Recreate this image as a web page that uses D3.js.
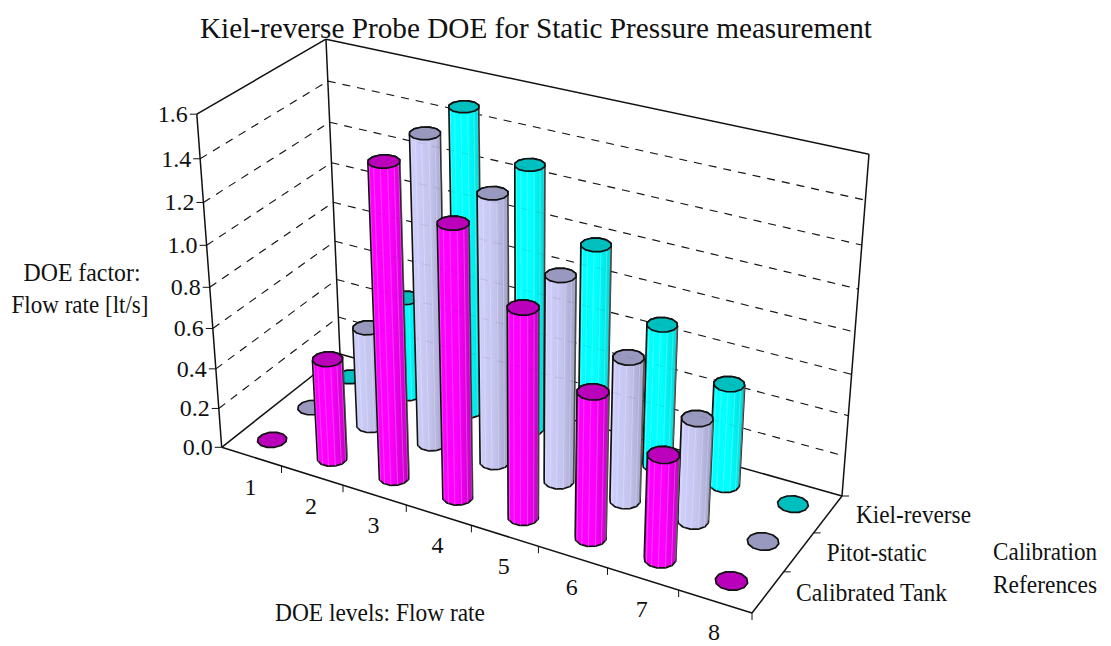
<!DOCTYPE html>
<html><head><meta charset="utf-8">
<script src="https://cdnjs.cloudflare.com/ajax/libs/d3/7.8.5/d3.min.js"></script>
<style>html,body{margin:0;background:#fff}svg{display:block}text{font-family:"Liberation Serif","Times New Roman",serif;fill:#111}</style>
</head><body><svg id="c" width="1111" height="646"></svg>
<script>
const categories=["1","2","3","4","5","6","7","8"];
const seriesNames=["Calibrated Tank","Pitot-static","Kiel-reverse"];
const seriesLabelWidths=[151,100,115];
const calibratedTank=[0,0.5,1.5,1.3,1.0,0.7,0.5,0];
const pitotStatic=[0,0.5,1.5,1.3,1.0,0.7,0.5,0];
const kielReverse=[0,0.5,1.5,1.3,1.0,0.7,0.5,0];
const valueTicks=[0,0.2,0.4,0.6,0.8,1.0,1.2,1.4,1.6];
const bodyColors=[["#ff00ff","#ff00ff","#c400c4"],["#d0d0ff","#c4c4ee","#a0a0c8"],["#00ffff","#00ffff","#00d8d8"]];
const topColors=["#bb00bb","#9999bf","#00bfbf"];
const title="Kiel-reverse Probe DOE for Static Pressure measurement";

// box corners on screen: floor A,B,C,D and top of the three visible walls
const A=[221.7,447.3],B=[752,613],C=[842,496],D=[340,354];
const topCorners=[[0,0,196,113],[0,1,326.7,40.5],[1,1,869,154]];

// floor homography (unit square -> quad)
const dx1=B[0]-C[0],dx2=D[0]-C[0],sx=A[0]-B[0]+C[0]-D[0],dy1=B[1]-C[1],dy2=D[1]-C[1],sy=A[1]-B[1]+C[1]-D[1];
const den=dx1*dy2-dx2*dy1,g=(sx*dy2-dx2*sy)/den,h=(dx1*sy-sx*dy1)/den;
const H=[B[0]-A[0]+g*B[0],D[0]-A[0]+h*D[0],A[0],B[1]-A[1]+g*B[1],D[1]-A[1]+h*D[1],A[1],g,h];
const fl=(u,v)=>[H[0]*u+H[1]*v+H[2],H[3]*u+H[4]*v+H[5],H[6]*u+H[7]*v+1];
// least squares for the vertical column of the projective matrix
function solveVertical(){
  const rows=[];
  topCorners.forEach(([u,v,x,y])=>{const [X,Y,W]=fl(u,v);rows.push([1,0,-x,x*W-X]);rows.push([0,1,-y,y*W-Y]);});
  const M=[0,1,2].map(i=>[0,1,2,3].map(j=>d3.sum(rows,r=>r[i]*r[j])));
  for(let i=0;i<3;i++){let p=i;for(let k=i+1;k<3;k++)if(Math.abs(M[k][i])>Math.abs(M[p][i]))p=k;[M[i],M[p]]=[M[p],M[i]];
    for(let k=0;k<3;k++)if(k!==i){const f=M[k][i]/M[i][i];for(let j=i;j<4;j++)M[k][j]-=f*M[i][j];}}
  return [M[0][3]/M[0][0],M[1][3]/M[1][1],M[2][3]/M[2][2]];
}
const [va,vb,vc]=solveVertical();
const uScale=d3.scaleLinear().domain([0,categories.length]).range([0,1]);
const vScale=d3.scaleLinear().domain([0,seriesNames.length]).range([0,1]);
const wScale=d3.scaleLinear().domain([0,1.6]).range([0,1]);
function project(cu,cv,val){const u=uScale(cu),v=vScale(cv),w=wScale(val),[X,Y,W]=fl(u,v);const d=W+vc*w;return [(X+va*w)/d,(Y+vb*w)/d];}
const line=d3.line();
const svg=d3.select("#c");
const defs=svg.append("defs");
bodyColors.forEach((c,i)=>{const lg=defs.append("linearGradient").attr("id","b"+i);
  [[0,c[0]],[0.55,c[1]],[1,c[2]]].forEach(([o,k])=>lg.append("stop").attr("offset",o).attr("stop-color",k));});
const nC=categories.length,nS=seriesNames.length;
const wall=svg.append("g").attr("fill","none").attr("stroke","#111");
const seg=(g,a,b,w,dash)=>g.append("path").attr("d",line([a,b])).attr("stroke-width",w).attr("stroke-dasharray",dash||null);
// grid
const grid=(g,op)=>{valueTicks.slice(1,-1).forEach(t=>{
  g.append("path").attr("d",line([project(0,0,t),project(0,nS,t)])).attr("stroke-dasharray","8 7").attr("stroke-width",1.1).attr("opacity",op);
  g.append("path").attr("d",line([project(0,nS,t),project(nC,nS,t)])).attr("stroke-dasharray","8 7").attr("stroke-width",1.1).attr("opacity",op);
});};
grid(wall,1);
// box
[[[0,0,0],[0,0,1.6]],[[0,nS,0],[0,nS,1.6]],[[nC,nS,0],[nC,nS,1.6]],[[0,0,1.6],[0,nS,1.6]],[[0,nS,1.6],[nC,nS,1.6]],
 [[0,0,0],[nC,0,0]],[[nC,0,0],[nC,nS,0]],[[0,0,0],[0,nS,0]],[[0,nS,0],[nC,nS,0]]].forEach(([a,b])=>seg(wall,project(...a),project(...b),1.5));
// ticks
valueTicks.forEach(t=>{const p=project(0,0,t);seg(wall,p,[p[0]-7,p[1]],1);
  svg.append("text").attr("x",p[0]-9).attr("y",p[1]).attr("dy","0.33em").attr("text-anchor","end").attr("font-size",24).text(t.toFixed(1));});
d3.range(1,nC+1).forEach(i=>{const p=project(i,0,0);seg(wall,p,[p[0],p[1]+7],1);});
d3.range(1,nS+1).forEach(i=>{const p=project(nC,i,0);seg(wall,p,[p[0]+7,p[1]],1);});
categories.forEach((c,i)=>{const p=project(i+.5,0,0);
  svg.append("text").attr("x",p[0]-1).attr("y",p[1]+30.5).attr("dy","0.33em").attr("text-anchor","middle").attr("font-size",24).text(c);});
seriesNames.forEach((s,j)=>{const p=project(nC,j+.5,0);
  svg.append("text").attr("x",p[0]+28).attr("y",p[1]+1).attr("dy","0.33em").attr("font-size",25).attr("textLength",seriesLabelWidths[j]).attr("lengthAdjust","spacingAndGlyphs").text(s);});
// cylinders
const allSeries=[calibratedTank,pitotStatic,kielReverse];
const R=0.205,N=12;
const angles=d3.range(N).map(i=>(i+.5)/N*2*Math.PI);
const cyl=svg.append("g");
d3.range(nS-1,-1,-1).forEach(j=>{
  allSeries[j].forEach((val,i)=>{
    const cu=i+.5,cv=j+.5;
    const ring=z=>angles.map(a=>project(cu+R*Math.cos(a),cv+R*Math.sin(a),z));
    const base=ring(0),topP=ring(val);
    if(val>0){
      const hull=d3.polygonHull(base.concat(topP));
      cyl.append("path").attr("d",line(hull)+"Z").attr("fill",`url(#b${j})`).attr("stroke","#111").attr("stroke-width",1.7).attr("stroke-linejoin","round");
      d3.range(7).forEach(k=>{const a=Math.PI*0.25+(k+.5)/7*Math.PI;
        const pa=project(cu+R*Math.cos(a+Math.PI),cv+R*Math.sin(a+Math.PI),0),pb=project(cu+R*Math.cos(a+Math.PI),cv+R*Math.sin(a+Math.PI),val);
        cyl.append("path").attr("d",line([pa,pb])).attr("stroke","#fff").attr("stroke-opacity",0.25).attr("stroke-width",1).attr("fill","none");});
    }
    cyl.append("path").attr("d",line(topP)+"Z").attr("fill",topColors[j]).attr("stroke","#111").attr("stroke-width",1.7).attr("stroke-linejoin","round");
  });
});
grid(svg.append("g").attr("fill","none").attr("stroke","#334"),0.1);
// titles
const T=(x,y,s,fs,w)=>{const t=svg.append("text").attr("x",x).attr("y",y).attr("dy","0.33em").attr("text-anchor","middle").attr("font-size",fs).text(s);
  if(w)t.attr("textLength",w).attr("lengthAdjust","spacingAndGlyphs");return t;};
T(536,28,title,29,672);
T(82,273,"DOE factor:",25,117);T(80,305,"Flow rate [lt/s]",25,137);
T(380,613,"DOE levels: Flow rate",25,210);
T(1045,552,"Calibration",25,104);T(1045,585,"References",25,104);
</script></body></html>
